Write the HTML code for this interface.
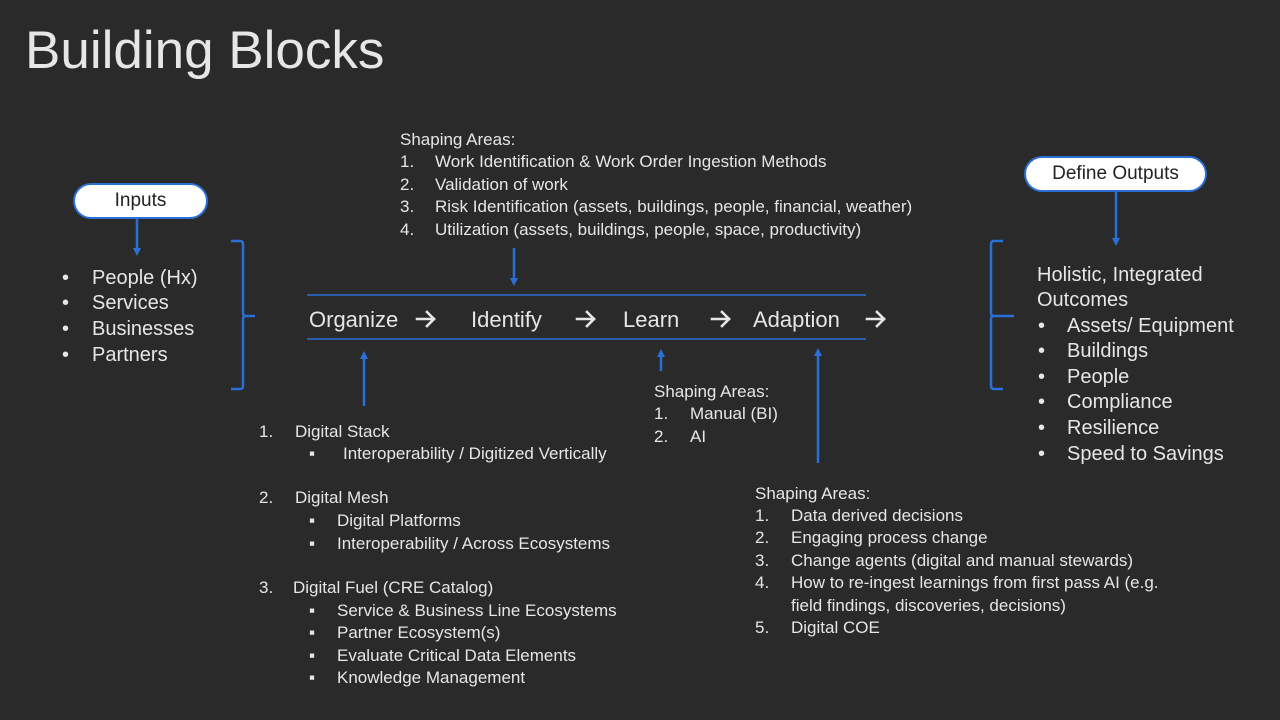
<!DOCTYPE html>
<html><head><meta charset="utf-8"><style>
body{margin:0;width:1280px;height:720px;background:#2a2a2a;position:relative;overflow:hidden;font-family:"Liberation Sans",sans-serif;color:#e6e6e6}
.t{position:absolute;line-height:1;white-space:pre}
.s{font-size:17px}.m{font-size:20px}
svg{position:absolute;left:0;top:0}
.pill{position:absolute;background:#fff;border:2px solid #2a6fd6;border-radius:18px;color:#222;text-align:center;box-sizing:border-box}
</style></head><body>
<svg width="1280" height="720">
<defs><marker id="a" markerWidth="8" markerHeight="8" refX="4" refY="4" orient="auto" markerUnits="userSpaceOnUse"><path d="M0,0 L8,4 L0,8 z" fill="#2a6fd6"/></marker></defs>
<g stroke="#2a6fd6" stroke-width="2.5" fill="none">
<line x1="137" y1="219" x2="137" y2="252" marker-end="url(#a)"/>
<line x1="1116" y1="192" x2="1116" y2="242" marker-end="url(#a)"/>
<line x1="514" y1="248" x2="514" y2="282" marker-end="url(#a)"/>
<line x1="364" y1="406" x2="364" y2="355" marker-end="url(#a)"/>
<line x1="661" y1="371" x2="661" y2="353" marker-end="url(#a)"/>
<line x1="818" y1="463" x2="818" y2="352" marker-end="url(#a)"/>
<path d="M231,241 H240 Q243,241 243,244 V313 Q243,316 246,316 H255 M246,316 Q243,316 243,319 V386 Q243,389 240,389 H231"/>
<path d="M1003,241 H994 Q991,241 991,244 V313 Q991,316 994,316 H1014 M994,316 Q991,316 991,319 V386 Q991,389 994,389 H1003"/>
</g>
<g stroke="#2a6fd6" stroke-width="1.5"><line x1="307" y1="295" x2="866" y2="295"/><line x1="307" y1="339" x2="866" y2="339"/></g>
<g stroke="#e6e6e6" stroke-width="2.6" fill="none" stroke-linecap="square">
<path d="M417,319 H434 M427,312 L434,319 L427,326"/>
<path d="M577,319 H594 M587,312 L594,319 L587,326"/>
<path d="M712,319 H729 M722,312 L729,319 L722,326"/>
<path d="M867,319 H884 M877,312 L884,319 L877,326"/>
</g>
</svg>
<div class="t" style="left:25px;top:24px;font-size:53px">Building Blocks</div>
<div class="pill" style="left:73px;top:183px;width:135px;height:36px;font-size:19px;line-height:32px">Inputs</div>
<div class="pill" style="left:1024px;top:156px;width:183px;height:36px;font-size:19px;line-height:32px">Define Outputs</div>

<div class="t s" style="left:400px;top:131px">Shaping Areas:</div>
<div class="t s" style="left:400px;top:153px">1.</div><div class="t s" style="left:435px;top:153px">Work Identification &amp; Work Order Ingestion Methods</div>
<div class="t s" style="left:400px;top:176px">2.</div><div class="t s" style="left:435px;top:176px">Validation of work</div>
<div class="t s" style="left:400px;top:198px">3.</div><div class="t s" style="left:435px;top:198px">Risk Identification (assets, buildings, people, financial, weather)</div>
<div class="t s" style="left:400px;top:221px">4.</div><div class="t s" style="left:435px;top:221px">Utilization (assets, buildings, people, space, productivity)</div>

<div class="t m" style="left:62px;top:268px">•</div><div class="t m" style="left:92px;top:268px">People (Hx)</div>
<div class="t m" style="left:62px;top:293px">•</div><div class="t m" style="left:92px;top:293px">Services</div>
<div class="t m" style="left:62px;top:319px">•</div><div class="t m" style="left:92px;top:319px">Businesses</div>
<div class="t m" style="left:62px;top:345px">•</div><div class="t m" style="left:92px;top:345px">Partners</div>

<div class="t" style="font-size:22px;left:309px;top:309px">Organize</div>
<div class="t" style="font-size:22px;left:471px;top:309px">Identify</div>
<div class="t" style="font-size:22px;left:623px;top:309px">Learn</div>
<div class="t" style="font-size:22px;left:753px;top:309px">Adaption</div>

<div class="t s" style="left:654px;top:383px">Shaping Areas:</div>
<div class="t s" style="left:654px;top:405px">1.</div><div class="t s" style="left:690px;top:405px">Manual (BI)</div>
<div class="t s" style="left:654px;top:428px">2.</div><div class="t s" style="left:690px;top:428px">AI</div>

<div class="t s" style="left:259px;top:423px">1.</div><div class="t s" style="left:295px;top:423px">Digital Stack</div>
<div class="t s" style="left:309px;top:445px">▪</div><div class="t s" style="left:343px;top:445px">Interoperability / Digitized Vertically</div>
<div class="t s" style="left:259px;top:489px">2.</div><div class="t s" style="left:295px;top:489px">Digital Mesh</div>
<div class="t s" style="left:309px;top:512px">▪</div><div class="t s" style="left:337px;top:512px">Digital Platforms</div>
<div class="t s" style="left:309px;top:535px">▪</div><div class="t s" style="left:337px;top:535px">Interoperability / Across Ecosystems</div>
<div class="t s" style="left:259px;top:579px">3.</div><div class="t s" style="left:293px;top:579px">Digital Fuel (CRE Catalog)</div>
<div class="t s" style="left:309px;top:602px">▪</div><div class="t s" style="left:337px;top:602px">Service &amp; Business Line Ecosystems</div>
<div class="t s" style="left:309px;top:624px">▪</div><div class="t s" style="left:337px;top:624px">Partner Ecosystem(s)</div>
<div class="t s" style="left:309px;top:647px">▪</div><div class="t s" style="left:337px;top:647px">Evaluate Critical Data Elements</div>
<div class="t s" style="left:309px;top:669px">▪</div><div class="t s" style="left:337px;top:669px">Knowledge Management</div>

<div class="t s" style="left:755px;top:485px">Shaping Areas:</div>
<div class="t s" style="left:755px;top:507px">1.</div><div class="t s" style="left:791px;top:507px">Data derived decisions</div>
<div class="t s" style="left:755px;top:529px">2.</div><div class="t s" style="left:791px;top:529px">Engaging process change</div>
<div class="t s" style="left:755px;top:552px">3.</div><div class="t s" style="left:791px;top:552px">Change agents (digital and manual stewards)</div>
<div class="t s" style="left:755px;top:574px">4.</div><div class="t s" style="left:791px;top:574px">How to re-ingest learnings from first pass AI (e.g.</div>
<div class="t s" style="left:791px;top:597px">field findings, discoveries, decisions)</div>
<div class="t s" style="left:755px;top:619px">5.</div><div class="t s" style="left:791px;top:619px">Digital COE</div>

<div class="t m" style="left:1037px;top:265px">Holistic, Integrated</div>
<div class="t m" style="left:1037px;top:290px">Outcomes</div>
<div class="t m" style="left:1038px;top:316px">•</div><div class="t m" style="left:1067px;top:316px">Assets/ Equipment</div>
<div class="t m" style="left:1038px;top:341px">•</div><div class="t m" style="left:1067px;top:341px">Buildings</div>
<div class="t m" style="left:1038px;top:367px">•</div><div class="t m" style="left:1067px;top:367px">People</div>
<div class="t m" style="left:1038px;top:392px">•</div><div class="t m" style="left:1067px;top:392px">Compliance</div>
<div class="t m" style="left:1038px;top:418px">•</div><div class="t m" style="left:1067px;top:418px">Resilience</div>
<div class="t m" style="left:1038px;top:444px">•</div><div class="t m" style="left:1067px;top:444px">Speed to Savings</div>
</body></html>
